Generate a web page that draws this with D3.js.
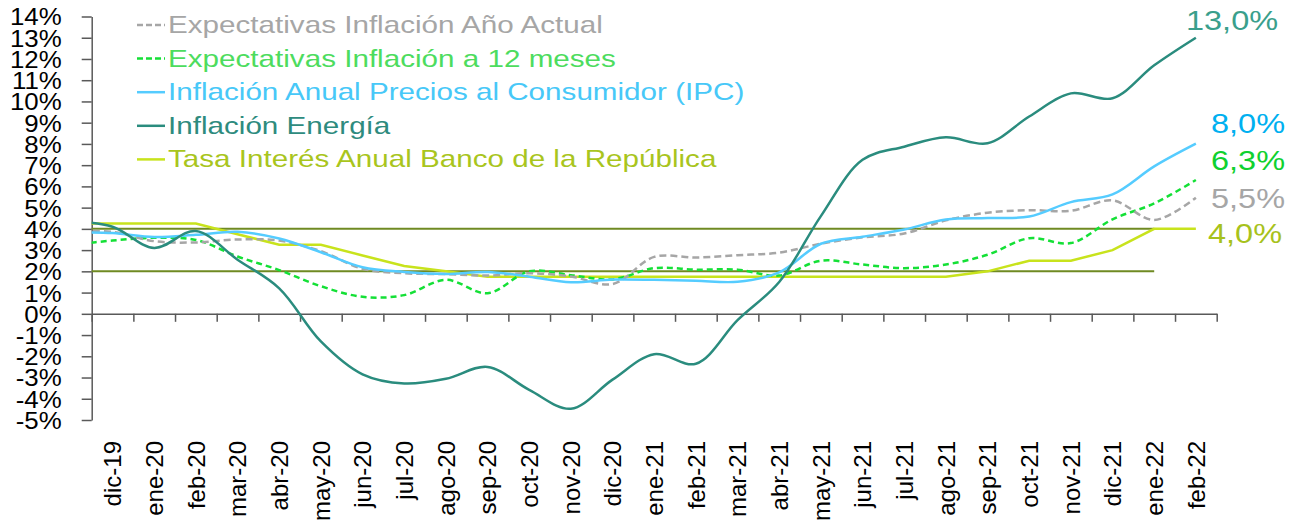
<!DOCTYPE html>
<html>
<head>
<meta charset="utf-8">
<script src="https://cdn.jsdelivr.net/npm/d3@7"></script>
<style>
  html, body { margin: 0; padding: 0; background: #ffffff; }
  svg text { font-family: "Liberation Sans", Arial, sans-serif; }
</style>
</head>
<body>
<div id="grafico"></div>
<script>
// Meses del eje X
const meses = ["dic-19","ene-20","feb-20","mar-20","abr-20","may-20","jun-20","jul-20","ago-20","sep-20","oct-20","nov-20",
  "dic-20","ene-21","feb-21","mar-21","abr-21","may-21","jun-21","jul-21","ago-21","sep-21","oct-21","nov-21",
  "dic-21","ene-22","feb-22"];

// Las series empiezan en nov-19 (ese tramo queda recortado por el eje Y)
const mesesDatos = ["nov-19"].concat(meses);

const expectativasAnoActual = [3.90, 3.86, 3.42, 3.36, 3.50, 3.45, 2.95, 2.12, 1.91, 1.87, 1.80, 1.91, 1.76, 1.40,
  2.68, 2.65, 2.76, 2.88, 3.30, 3.60, 3.78, 4.40, 4.76, 4.88, 4.85, 5.34, 4.42, 5.47];
const expectativas12Meses = [3.25, 3.45, 3.58, 3.48, 2.70, 2.06, 1.30, 0.80, 0.88, 1.60, 0.97, 2.00, 1.82, 1.62,
  2.15, 2.08, 2.08, 1.80, 2.50, 2.32, 2.15, 2.32, 2.78, 3.56, 3.33, 4.45, 5.20, 6.30];
const inflacionIPC = [3.84, 3.80, 3.62, 3.72, 3.86, 3.55, 2.90, 2.19, 1.97, 1.88, 1.97, 1.75, 1.49, 1.61,
  1.60, 1.56, 1.51, 1.95, 3.30, 3.63, 3.97, 4.44, 4.51, 4.58, 5.26, 5.62, 6.94, 8.01];
const inflacionEnergia = [4.35, 4.10, 3.10, 3.90, 2.55, 1.20, -1.30, -2.85, -3.28, -3.06, -2.50, -3.58, -4.47, -3.10,
  -1.90, -2.35, -0.30, 1.50, 4.60, 7.25, 7.87, 8.31, 8.03, 9.29, 10.38, 10.15, 11.70, 13.00];
const tasaInteres = [4.25, 4.25, 4.25, 4.25, 3.75, 3.25, 3.25, 2.75, 2.25, 2.00, 1.75, 1.75, 1.75, 1.75,
  1.75, 1.75, 1.75, 1.75, 1.75, 1.75, 1.75, 1.75, 2.00, 2.50, 2.50, 3.00, 4.00, 4.00];

// Rango meta de inflación (2% - 4%), hasta ene-22
const rangoPiso = [2,2,2,2,2,2,2,2,2,2,2,2,2,2,2,2,2,2,2,2,2,2,2,2,2,2,2,null];
const rangoTecho = [4,4,4,4,4,4,4,4,4,4,4,4,4,4,4,4,4,4,4,4,4,4,4,4,4,4,4,null];

// Ticks del eje Y
const ticksY = d3.range(-5, 15);

function crearGrafico(container) {
    d3.select(container).html("");

    const width = 1303, height = 525;
    const left = 91.7, right = 1216.7, top = 16.5, bottom = 420;

    const svg = d3.select(container)
        .append("svg")
        .attr("width", width)
        .attr("height", height);

    // Escalas
    const x = d3.scaleBand()
        .domain(meses)
        .range([left, right]);
    const bw = x.bandwidth();

    const xDatos = d3.scaleBand()
        .domain(mesesDatos)
        .range([left - bw, right]);

    const xBordes = d3.scaleLinear()
        .domain([0, meses.length])
        .range([left, right]);

    const y = d3.scaleLinear()
        .domain([-5, 14])
        .range([bottom, top]);

    // Eje Y
    const ejeY = svg.append("g")
        .attr("transform", `translate(${left},0)`)
        .call(d3.axisLeft(y).tickValues(ticksY).tickSize(10).tickSizeOuter(0)
            .tickFormat(d => d + "%"));
    ejeY.select(".domain").attr("stroke", "#595959").attr("stroke-width", 1.5);
    ejeY.selectAll(".tick line").attr("stroke", "#595959").attr("stroke-width", 1.5);
    ejeY.selectAll(".tick text")
        .attr("fill", "#000")
        .style("font-size", "23.5px")
        .attr("transform", "scale(1.1,1)")
        .attr("x", -30 / 1.1)
        .attr("dy", "0.36em");

    // Eje X en 0%
    const ejeX = svg.append("g")
        .attr("transform", `translate(0,${y(0)})`)
        .call(d3.axisBottom(xBordes).tickValues(d3.range(meses.length + 1))
            .tickSize(8).tickSizeOuter(0).tickFormat(""));
    ejeX.select(".domain").attr("stroke", "#595959").attr("stroke-width", 1.5);
    ejeX.selectAll(".tick line").attr("stroke", "#595959").attr("stroke-width", 1.5);

    // Etiquetas de meses (abajo, verticales)
    const etiquetas = svg.append("g")
        .attr("transform", `translate(0,441)`)
        .call(d3.axisBottom(x).tickSize(0).tickPadding(0));
    etiquetas.select(".domain").remove();
    etiquetas.selectAll(".tick text")
        .attr("fill", "#000")
        .style("font-size", "24px")
        .attr("transform", "rotate(-90)")
        .attr("x", 0)
        .attr("y", 0)
        .attr("dy", "0.36em")
        .attr("text-anchor", "end");

    // Recorte a la zona del gráfico
    svg.append("clipPath")
        .attr("id", "zona")
        .append("rect")
        .attr("x", left).attr("y", 0)
        .attr("width", width - left).attr("height", height);

    const capa = svg.append("g").attr("clip-path", "url(#zona)");

    const lineaSuave = d3.line()
        .defined(d => d != null)
        .x((d, i) => xDatos(mesesDatos[i]) + bw / 2)
        .y(d => y(d))
        .curve(d3.curveCatmullRom.alpha(0.5));

    const lineaRecta = d3.line()
        .defined(d => d != null)
        .x((d, i) => xDatos(mesesDatos[i]) + bw / 2)
        .y(d => y(d));

    // Líneas del rango meta
    [rangoPiso, rangoTecho].forEach(serie => {
        capa.append("path")
            .datum(serie)
            .attr("fill", "none")
            .attr("stroke", "#6f8a22")
            .attr("stroke-width", 2)
            .attr("d", lineaRecta);
    });

    // Series principales
    const series = [
        {datos: tasaInteres, color: "#c8e31c", dash: null, linea: lineaRecta},
        {datos: expectativas12Meses, color: "#14e036", dash: "6,4", linea: lineaSuave},
        {datos: expectativasAnoActual, color: "#a6a6a6", dash: "7,4", linea: lineaSuave},
        {datos: inflacionIPC, color: "#55ccff", dash: null, linea: lineaSuave},
        {datos: inflacionEnergia, color: "#2a8c7e", dash: null, linea: lineaSuave}
    ];
    series.forEach(s => {
        capa.append("path")
            .datum(s.datos)
            .attr("fill", "none")
            .attr("stroke", s.color)
            .attr("stroke-width", 2.5)
            .attr("stroke-dasharray", s.dash)
            .attr("d", s.linea);
    });

    // Valores finales a la derecha
    const fmt = v => d3.format(".1f")(v).replace(".", ",") + "%";
    const ultimo = arr => arr[arr.length - 1];
    const finales = [
        {valor: ultimo(inflacionEnergia), color: "#3a9f8c", x: 1186, dy: -8},
        {valor: ultimo(inflacionIPC), color: "#00b0f0", x: 1211, dy: -11},
        {valor: ultimo(expectativas12Meses), color: "#0fd12f", x: 1211, dy: -10},
        {valor: ultimo(expectativasAnoActual), color: "#a6a6a6", x: 1211, dy: 10},
        {valor: ultimo(tasaInteres), color: "#a7c21c", x: 1208, dy: 14}
    ];
    svg.selectAll(".final")
        .data(finales)
        .enter().append("text")
        .attr("class", "final")
        .attr("transform", d => `translate(${d.x},${y(d.valor) + d.dy}) scale(1.16,1)`)
        .attr("fill", d => d.color)
        .style("font-size", "28px")
        .text(d => fmt(d.valor));

    // Leyenda
    const leyenda = [
        {texto: "Expectativas Inflación Año Actual", color: "#a6a6a6", texto_color: "#a6a6a6", dash: "6,3"},
        {texto: "Expectativas Inflación a 12 meses", color: "#14e036", texto_color: "#4ddc5e", dash: "6,3"},
        {texto: "Inflación Anual Precios al Consumidor (IPC)", color: "#55ccff", texto_color: "#47c8f8", dash: null},
        {texto: "Inflación Energía", color: "#2a8c7e", texto_color: "#2e8b7e", dash: null},
        {texto: "Tasa Interés Anual Banco de la República", color: "#c8e31c", texto_color: "#a9c51d", dash: null}
    ];
    const filas = svg.selectAll(".leyenda")
        .data(leyenda)
        .enter().append("g")
        .attr("class", "leyenda")
        .attr("transform", (d, i) => `translate(0,${33 + i * 33.6})`);
    filas.append("line")
        .attr("x1", 137).attr("x2", 165)
        .attr("y1", -8).attr("y2", -8)
        .attr("stroke", d => d.color)
        .attr("stroke-width", 2.5)
        .attr("stroke-dasharray", d => d.dash);
    filas.append("text")
        .attr("transform", "translate(168,0) scale(1.235,1)")
        .attr("fill", d => d.texto_color)
        .style("font-size", "24px")
        .text(d => d.texto);
}

crearGrafico("#grafico");
</script>
</body>
</html>
